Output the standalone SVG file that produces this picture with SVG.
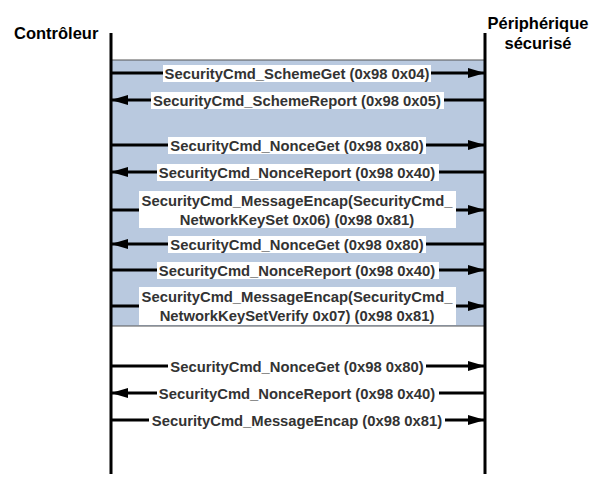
<svg xmlns="http://www.w3.org/2000/svg" width="598" height="495" viewBox="0 0 598 495">
<defs>
<marker id="ah" viewBox="0 0 17 10" refX="17" refY="5" markerWidth="17" markerHeight="10" markerUnits="userSpaceOnUse" orient="auto-start-reverse">
<path d="M0,0 L17,5 L0,10 Z" fill="#000"/>
</marker>
</defs>
<style>
.hdr{font-family:"Liberation Sans",Arial,sans-serif;font-weight:bold;font-size:16.5px;fill:#000}
.lbl{font-family:"Liberation Sans",Arial,sans-serif;font-weight:bold;font-size:14.8px;fill:#333;text-anchor:middle}
.bg{fill:#fff}
.life{stroke:#000;stroke-width:3;fill:none}
.msg{stroke:#000;stroke-width:3;fill:none}
</style>
<rect x="111" y="60" width="374" height="266" fill="#b9c9df" stroke="#555" stroke-width="1"/>
<g id="controleur">
<text class="hdr" x="14" y="39">Contrôleur</text>
<line class="life" x1="111" y1="33" x2="111" y2="474"/>
</g>
<g id="peripherique">
<text class="hdr" x="538" y="29" text-anchor="middle">Périphérique</text>
<text class="hdr" x="538" y="49" text-anchor="middle">sécurisé</text>
<line class="life" x1="485" y1="33" x2="485" y2="474"/>
</g>
<g id="connectors">
<line class="msg" x1="111" y1="73" x2="485" y2="73" marker-end="url(#ah)"/>
<line class="msg" x1="485" y1="100" x2="111" y2="100" marker-end="url(#ah)"/>
<line class="msg" x1="111" y1="145" x2="485" y2="145" marker-end="url(#ah)"/>
<line class="msg" x1="485" y1="172" x2="111" y2="172" marker-end="url(#ah)"/>
<line class="msg" x1="111" y1="210" x2="485" y2="210" marker-end="url(#ah)"/>
<line class="msg" x1="485" y1="244" x2="111" y2="244" marker-end="url(#ah)"/>
<line class="msg" x1="111" y1="270" x2="485" y2="270" marker-end="url(#ah)"/>
<line class="msg" x1="111" y1="306" x2="485" y2="306" marker-end="url(#ah)"/>
<line class="msg" x1="111" y1="366" x2="485" y2="366" marker-end="url(#ah)"/>
<line class="msg" x1="485" y1="393" x2="111" y2="393" marker-end="url(#ah)"/>
<line class="msg" x1="111" y1="420" x2="485" y2="420" marker-end="url(#ah)"/>
</g>
<g id="labels">
<rect class="bg" x="163" y="65" width="268" height="17"/>
<text class="lbl" x="297" y="78.5">SecurityCmd_SchemeGet (0x98 0x04)</text>
<rect class="bg" x="151" y="92" width="293" height="17"/>
<text class="lbl" x="297" y="105.5">SecurityCmd_SchemeReport (0x98 0x05)</text>
<rect class="bg" x="168" y="137" width="258" height="17"/>
<text class="lbl" x="297" y="150.5">SecurityCmd_NonceGet (0x98 0x80)</text>
<rect class="bg" x="157" y="164" width="282" height="17"/>
<text class="lbl" x="297" y="177.5">SecurityCmd_NonceReport (0x98 0x40)</text>
<rect class="bg" x="139" y="191" width="317" height="37"/>
<text class="lbl" x="297" y="206">SecurityCmd_MessageEncap(SecurityCmd_</text>
<text class="lbl" x="297" y="224.5">NetworkKeySet 0x06) (0x98 0x81)</text>
<rect class="bg" x="168" y="236" width="258" height="17"/>
<text class="lbl" x="297" y="249.5">SecurityCmd_NonceGet (0x98 0x80)</text>
<rect class="bg" x="157" y="262" width="282" height="17"/>
<text class="lbl" x="297" y="275.5">SecurityCmd_NonceReport (0x98 0x40)</text>
<rect class="bg" x="139" y="287" width="317" height="38"/>
<text class="lbl" x="297" y="302">SecurityCmd_MessageEncap(SecurityCmd_</text>
<text class="lbl" x="297" y="320.5">NetworkKeySetVerify 0x07) (0x98 0x81)</text>
<rect class="bg" x="168" y="358" width="258" height="17"/>
<text class="lbl" x="297" y="371.5">SecurityCmd_NonceGet (0x98 0x80)</text>
<rect class="bg" x="157" y="385" width="282" height="17"/>
<text class="lbl" x="297" y="398.5">SecurityCmd_NonceReport (0x98 0x40)</text>
<rect class="bg" x="149" y="412" width="296" height="17"/>
<text class="lbl" x="297" y="425.5">SecurityCmd_MessageEncap (0x98 0x81)</text>
</g>
</svg>
